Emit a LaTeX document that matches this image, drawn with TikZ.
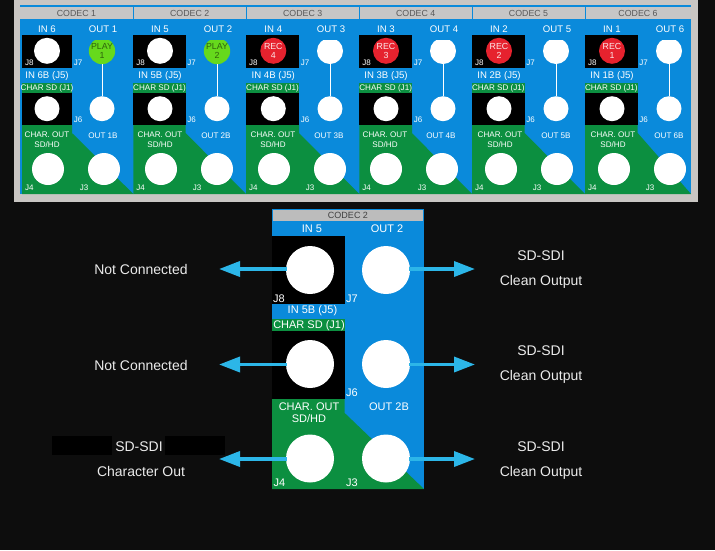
\documentclass[tikz,border=0pt]{standalone}
\usepackage{fontspec}
\setmainfont{Liberation Sans}
\usetikzlibrary{arrows.meta}
\definecolor{bgk}{HTML}{0D0D0D}
\definecolor{pgrey}{HTML}{C9C6C3}
\definecolor{hgrey}{HTML}{C6C6C6}
\definecolor{pblue}{HTML}{0A8ADB}
\definecolor{pgreen}{HTML}{0C8F40}
\definecolor{arrowblue}{HTML}{2CB6E8}
\definecolor{playg}{HTML}{66D91C}
\definecolor{recr}{HTML}{E6222E}
\newcommand{\fsz}[1]{\fontsize{#1}{#1}\selectfont}
\tikzset{
  x=1pt,y=-1pt,
  lab/.style={inner sep=0pt,text=white,text height=6.9pt,text depth=0pt,font=\fsz{9.6}},
  slab/.style={lab,text height=5.8pt,font=\fsz{8.1}},
  jlab/.style={lab,text height=5.8pt,font=\fsz{8}},
  hlab/.style={lab,text height=6.3pt,text=black!65,font=\fsz{8.8}},
  bigl/.style={lab,text height=7.9pt,font=\fsz{11}},
  side/.style={inner sep=0pt,text=white!92!black,text height=10pt,text depth=0pt,font=\fsz{14}},
  jack/.style={circle,inner sep=0pt,fill=white,draw=none,minimum size=#1},
  jack/.default=25,
  feed/.style={line width=3.5pt,draw=arrowblue,-{Triangle[length=21pt,width=15pt,fill=arrowblue]},shorten <=-1pt},
  link/.style={draw=white,line width=1pt},
}
\begin{document}
\begin{tikzpicture}
\useasboundingbox (0,0) rectangle (715,550);
\fill[bgk] (0,0) rectangle (715,550);
\fill[pgrey] (14,0) rectangle (698,201.5);
\fill[pblue] (19.5,5) rectangle (691,194);

\foreach \i/\xa/\xb/\bl/\br/\inx/\outx/\blx/\brx/\inn/\outn/\inb/\outb/\cc/\ct/\oc/\ot in {
 1/19.5/133.3/22/72/47/102/48/104/IN 6/OUT 1/IN 6B (J5)/OUT 1B/white//playg/{PLAY\\1},
 2/133.3/246/133.3/185.7/160/217/161/217/IN 5/OUT 2/IN 5B (J5)/OUT 2B/white//playg/{PLAY\\2},
 3/246/359.3/246/299/273.3/330/274/330/IN 4/OUT 3/IN 4B (J5)/OUT 3B/recr/{REC\\4}/white/,
 4/359.3/472/359.3/412/386/443/386/442/IN 3/OUT 4/IN 3B (J5)/OUT 4B/recr/{REC\\3}/white/,
 5/472/585/472/524.7/499/556/501/557/IN 2/OUT 5/IN 2B (J5)/OUT 5B/recr/{REC\\2}/white/,
 6/585/691/585/637.7/612/669/614/670/IN 1/OUT 6/IN 1B (J5)/OUT 6B/recr/{REC\\1}/white/}{
  \fill[hgrey] (\xa+0.7,6.5) rectangle (\xb-0.5,18.5);
  \node[hlab] (h\i) at ({(\xa+\xb)/2},13) {CODEC \i};
  \fill[black] (\bl,35) rectangle (\br,68);
  \fill[pgreen] (\bl,83.3) rectangle (\br,92.7);
  \fill[black] (\bl,92.7) rectangle (\br,125);
  \fill[pgreen] (\bl,125) -- (\br,125) -- (\br,133) -- (\xb,194) -- (\bl,194) -- cycle;
  \node[jack=26,fill=\cc,text=white!90!recr,align=center,font=\fsz{8.8}] (a\i) at (\inx,50.8) {\ct};
  \begin{scope}
    \clip (\outx-20,40) rectangle (\outx+20,70);
    \node[jack=26,fill=\oc,text=black!55!playg,align=center,font=\fsz{8.8}] (o\i) at (\outx,51) {\ot};
  \end{scope}
  \node[jack=25] (b\i) at (\inx,108.7) {};
  \node[jack=25] (l\i) at (\outx,108.7) {};
  \draw[link] (o\i) -- (l\i);
  \node[jack=32] (c\i) at (\blx,169) {};
  \node[jack=32] (d\i) at (\brx,169) {};
  \node[lab] (ti\i) at (\inx,28.7) {\inn};
  \node[lab] (to\i) at (\outx+1,28.7) {\outn};
  \node[lab] (tb\i) at (\inx,75) {\inb};
  \node[slab] (ts\i) at ({(\bl+\br)/2},88) {CHAR SD (J1)};
  \node[slab] (tc\i) at (\blx-1,135) {CHAR. OUT};
  \node[slab] (tv\i) at (\blx-1,145) {SD/HD};
  \node[slab] (tq\i) at (\brx-1,136) {\outb};
  \node[jlab] (j8\i) at (\bl+7.3,62.5) {J8};
  \node[jlab] (j7\i) at (\br+6,62.5) {J7};
  \node[jlab] (j6\i) at (\br+6,120) {J6};
  \node[jlab] (j4\i) at (\bl+7.3,188) {J4};
  \node[jlab] (j3\i) at (\blx+36,188) {J3};
}

% enlarged CODEC 2
\fill[pblue] (272,209) rectangle (424,489);
\fill[hgrey!95!black] (273,210) rectangle (423,220.7);
\node[lab,text height=6.5pt,text=black!75,font=\fsz{9}] (hd) at (348,215.5) {CODEC 2};
\fill[black] (272,236) rectangle (344.7,303.7);
\fill[pgreen] (272,319.3) rectangle (344.7,331);
\fill[black] (272,331) rectangle (344.7,399);
\fill[pgreen] (272,399) -- (344.7,399) -- (344.7,413) -- (424,489) -- (272,489) -- cycle;

\node[jack=48] (A) at (310,270) {};
\node[jack=48] (B) at (386,270) {};
\node[jack=48] (C) at (310,364) {};
\node[jack=48] (D) at (386,364) {};
\node[jack=48] (E) at (310,458.5) {};
\node[jack=48] (F) at (386,458.5) {};

\node[bigl] (t1) at (312,229) {IN 5};
\node[bigl] (t2) at (387,229) {OUT 2};
\node[bigl] (t3) at (279,299) {J8};
\node[bigl] (t4) at (352,299) {J7};
\node[bigl] (t5) at (312.5,310) {IN 5B (J5)};
\node[bigl] (t6) at (309,325) {CHAR SD (J1)};
\node[bigl] (t7) at (352,393) {J6};
\node[bigl] (t8) at (309,407) {CHAR. OUT};
\node[bigl] (t9) at (309,418.5) {SD/HD};
\node[bigl] (t10) at (389,407) {OUT 2B};
\node[bigl] (t11) at (279.5,483) {J4};
\node[bigl] (t12) at (352,483) {J3};

\coordinate (LA) at (219,269);
\coordinate (LC) at (219,364.5);
\coordinate (LE) at (219,459);
\coordinate (RB) at (475,269);
\coordinate (RD) at (475,364.5);
\coordinate (RF) at (475,459);
\draw[feed] (A.west |- LA) -- (LA);
\draw[feed] (C.west |- LC) -- (LC);
\draw[feed] (E.west |- LE) -- (LE);
\draw[feed] (B.east |- RB) -- (RB);
\draw[feed] (D.east |- RD) -- (RD);
\draw[feed] (F.east |- RF) -- (RF);

\fill[black] (52,435.5) rectangle (112,455);
\fill[black] (165,435.5) rectangle (225,455);
\node[side] (n1) at (141,269) {Not Connected};
\node[side] (n2) at (141,365) {Not Connected};
\node[side] (n3) at (139,446) {SD-SDI};
\node[side] (n4) at (141,471) {Character Out};
\node[side] (s1) at (541,255) {SD-SDI};
\node[side] (s2) at (541,280) {Clean Output};
\node[side] (s3) at (541,350) {SD-SDI};
\node[side] (s4) at (541,375) {Clean Output};
\node[side] (s5) at (541,446) {SD-SDI};
\node[side] (s6) at (541,471) {Clean Output};
\end{tikzpicture}
\end{document}
